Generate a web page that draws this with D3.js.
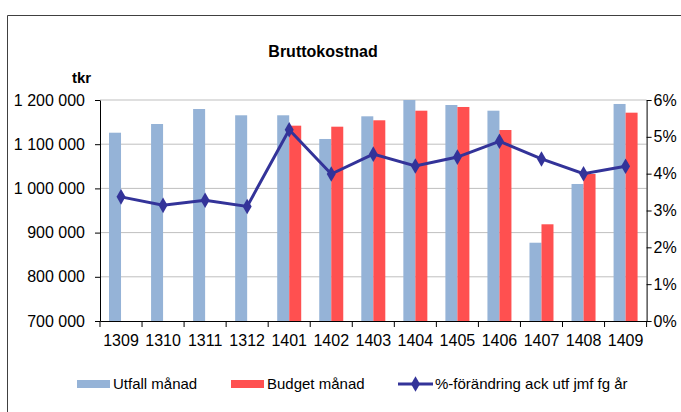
<!DOCTYPE html>
<html>
<head>
<meta charset="utf-8">
<title>Bruttokostnad</title>
<script src="https://cdn.jsdelivr.net/npm/d3@7"></script>
<style>
body { margin: 0; background: #fff; }
svg { display: block; font-family: "Liberation Sans", Arial, sans-serif; }
.grid line { stroke: #bfbfbf; }
</style>
</head>
<body>
<script>

// months (yymm)
var months = ["1309","1310","1311","1312","1401","1402","1403","1404","1405","1406","1407","1408","1409"];
// utfall per month, tkr
var utfall = [1126000, 1145700, 1179600, 1165400, 1165400, 1111800, 1163100, 1200000, 1188700, 1175800, 877100, 1010000, 1191000];
// budget per month, tkr (none before 1401)
var budget = [null, null, null, null, 1141900, 1139600, 1154100, 1175800, 1184200, 1132100, 918800, 1032600, 1171300];
// % change ack utf vs previous year
var pct = [3.37, 3.14, 3.28, 3.11, 5.19, 3.99, 4.53, 4.21, 4.45, 4.88, 4.40, 4.00, 4.20];

var leftTicks = [700000, 800000, 900000, 1000000, 1100000, 1200000];
var rightTicks = [0, 1, 2, 3, 4, 5, 6];

var width = 681, height = 412;
var plot = {left: 100, right: 646.6, top: 100, bottom: 321};

var svg = d3.select("body").append("svg")
  .attr("width", width)
  .attr("height", height);

// outer frame (runs off the right/bottom)
svg.append("path")
  .attr("d", "M7.5,420 V15.5 H700")
  .attr("fill", "none")
  .attr("stroke", "#404040")
  .attr("stroke-width", 1);

var x = d3.scaleBand().domain(months).range([plot.left, plot.right]);
var y = d3.scaleLinear().domain([700000, 1200000]).range([plot.bottom, plot.top]);
var y2 = d3.scaleLinear().domain([0, 6]).range([plot.bottom, plot.top]);

var fmt = function(v) { return d3.format(",")(v).replace(/,/g, " "); };

// gridlines
svg.append("g").attr("class", "grid")
  .selectAll("line")
  .data(leftTicks.slice(1))
  .enter().append("line")
  .attr("x1", plot.left).attr("x2", plot.right)
  .attr("y1", function(d) { return y(d); })
  .attr("y2", function(d) { return y(d); });

var barW = 12;
var cx = function(m) { return x(m) + x.bandwidth() / 2; };

// bars
svg.append("g").selectAll("rect")
  .data(utfall)
  .enter().append("rect")
  .attr("x", function(d, i) { return cx(months[i]) - barW; })
  .attr("y", function(d) { return y(d); })
  .attr("width", barW)
  .attr("height", function(d) { return plot.bottom - y(d); })
  .attr("fill", "#95b3d7");

svg.append("g").selectAll("rect")
  .data(budget)
  .enter().filter(function(d) { return d != null; }).append("rect")
  .attr("x", function(d, i) { return cx(months[budget.indexOf(d)]); })
  .attr("y", function(d) { return y(d); })
  .attr("width", barW)
  .attr("height", function(d) { return plot.bottom - y(d); })
  .attr("fill", "#ff5050");

// axes
var axisStyle = function(g) {
  g.select(".domain").attr("stroke", "#000");
  g.selectAll(".tick line").attr("stroke", "#000");
  g.selectAll("text").attr("fill", "#000").style("font-size", "16px")
    .style("font-family", "\"Liberation Sans\", Arial, sans-serif");
};

svg.append("g")
  .attr("transform", "translate(" + plot.left + ",0)")
  .call(d3.axisLeft(y).tickValues(leftTicks).tickFormat(fmt).tickSize(5).tickSizeOuter(0).tickPadding(10))
  .call(axisStyle);

svg.append("g")
  .attr("transform", "translate(" + plot.right + ",0)")
  .call(d3.axisRight(y2).tickValues(rightTicks).tickFormat(function(d) { return d + "%"; }).tickSize(5).tickSizeOuter(0).tickPadding(2))
  .call(axisStyle);

var xAxis = svg.append("g")
  .attr("transform", "translate(0," + plot.bottom + ")")
  .call(d3.axisBottom(x).tickSize(0).tickSizeOuter(0).tickPadding(14))
  .call(axisStyle);

// category boundary ticks
xAxis.selectAll(".sep")
  .data(months.concat(["end"]))
  .enter().append("line")
  .attr("class", "sep")
  .attr("x1", function(d, i) { return plot.left + i * x.step(); })
  .attr("x2", function(d, i) { return plot.left + i * x.step(); })
  .attr("y1", 0).attr("y2", 6)
  .attr("stroke", "#000");

// line series
var line = d3.line()
  .x(function(d, i) { return cx(months[i]); })
  .y(function(d) { return y2(d); });

svg.append("path")
  .datum(pct)
  .attr("d", line)
  .attr("fill", "none")
  .attr("stroke", "#333399")
  .attr("stroke-width", 3);

var diamond = d3.symbol().type(d3.symbolDiamond).size(70);

svg.append("g").selectAll("path")
  .data(pct)
  .enter().append("path")
  .attr("d", diamond)
  .attr("transform", function(d, i) { return "translate(" + cx(months[i]) + "," + y2(d) + ")"; })
  .attr("fill", "#333399");

// title and unit
svg.append("text")
  .attr("x", 323).attr("y", 57)
  .attr("text-anchor", "middle")
  .style("font-size", "16px").style("font-weight", "bold")
  .text("Bruttokostnad");

svg.append("text")
  .attr("x", 72).attr("y", 83)
  .style("font-size", "15px").style("font-weight", "bold")
  .text("tkr");

// legend
var legend = svg.append("g").style("font-size", "15px");
var ly = 384;

legend.append("rect").attr("x", 77).attr("y", ly - 4).attr("width", 33).attr("height", 8).attr("fill", "#95b3d7");
legend.append("text").attr("x", 113).attr("y", ly + 5).text("Utfall månad");

legend.append("rect").attr("x", 231).attr("y", ly - 4).attr("width", 33).attr("height", 8).attr("fill", "#ff5050");
legend.append("text").attr("x", 267).attr("y", ly + 5).text("Budget månad");

legend.append("line").attr("x1", 398).attr("x2", 433).attr("y1", ly).attr("y2", ly)
  .attr("stroke", "#333399").attr("stroke-width", 3);
legend.append("path").attr("d", diamond).attr("transform", "translate(415.5," + ly + ")").attr("fill", "#333399");
legend.append("text").attr("x", 435).attr("y", ly + 5).text("%-förändring ack utf jmf fg år");

</script>
</body>
</html>
